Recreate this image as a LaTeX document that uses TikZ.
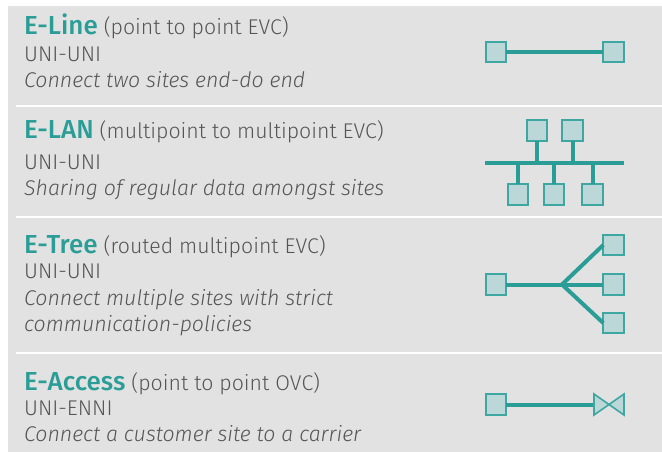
\documentclass[tikz,border=0pt]{standalone}
\usepackage{fontspec}
\IfFontExistsTF{Fira Sans Light}{%
  \setmainfont{Fira Sans Light}[BoldFont={Fira Sans Medium}]}{%
  \setmainfont{Fira Sans}}
\definecolor{bgc}{HTML}{E2E2E2}
\definecolor{tealc}{HTML}{2A9D97}
\definecolor{sqc}{HTML}{BCD7D8}
\definecolor{txtc}{HTML}{555555}
\newcommand{\ttlfont}{\fontsize{26}{29}\selectfont\bfseries\color{tealc}}
\begin{document}
\begin{tikzpicture}[x=1pt,y=-1pt,
  site/.style={draw=tealc!90!white, line width=2pt, fill=sqc, minimum size=20.5pt, inner sep=0pt, outer sep=0pt},
  link/.style={draw=tealc, line width=4pt},
  sepline/.style={draw=white, line width=2pt},
  body/.style={anchor=base west, inner sep=0pt, text=txtc, font=\fontsize{21.3}{25}\selectfont},
  desc/.style={body, font=\fontsize{21.3}{25}\selectfont\itshape},
  tri/.style={draw=tealc!90!white, line width=1.6pt, fill=sqc, line join=miter}]
\useasboundingbox (0,0) rectangle (662,452);
\fill[bgc] (8,6) rectangle (662,452);
% separators
\draw[sepline] (16,106) -- (662,106);
\draw[sepline] (16,217) -- (662,217);
\draw[sepline] (16,353) -- (662,353);

% ---- E-Line
\node[body] (h1) at (24,35) {{\ttlfont E-Line} (point to point EVC)};
\node[body] (u1) at (24,62) {UNI-UNI};
\node[desc] (d1) at (24,88) {Connect two sites end-do end};
\node[site] (l1) at (496,52) {};
\node[site] (l2) at (613.5,52) {};
\draw[link] (l1) -- (l2);

% ---- E-LAN
\node[body] (h2) at (24,139) {{\ttlfont E-LAN} (multipoint to multipoint EVC)};
\node[body] (u2) at (24,169) {UNI-UNI};
\node[desc] (d2) at (24,195) {Sharing of regular data amongst sites};
\coordinate (busL) at (485,163);
\coordinate (busR) at (624,163);
\node[site] (lt1) at (537,130.5) {};
\node[site] (lt2) at (572.5,130.5) {};
\node[site] (lb1) at (518,194.5) {};
\node[site] (lb2) at (554,194.5) {};
\node[site] (lb3) at (592.5,194.5) {};
\draw[link] (busL) -- (busR);
\draw[link] (lt1) -- (lt1 |- busL);
\draw[link] (lt2) -- (lt2 |- busL);
\draw[link] (lb1) -- (lb1 |- busL);
\draw[link] (lb2) -- (lb2 |- busL);
\draw[link] (lb3) -- (lb3 |- busL);

% ---- E-Tree
\node[body] (h3) at (24,253) {{\ttlfont E-Tree} (routed multipoint EVC)};
\node[body] (u3) at (24,278) {UNI-UNI};
\node[desc] (d3) at (24,305) {Connect multiple sites with strict};
\node[desc] (d3b) at (24,331) {communication-policies};
\node[site] (tl) at (496,284.5) {};
\coordinate (br) at (562,284.5);
\node[site] (r1) at (613.5,245) {};
\node[site] (r2) at (613.5,284.5) {};
\node[site] (r3) at (613.5,323) {};
\draw[link] (tl) -- (br);
\draw[link, line join=miter] (r1.west) -- (br) -- (r3.west);
\draw[link] (br) -- (r2);

% ---- E-Access
\node[body] (h4) at (24,390) {{\ttlfont E-Access} (point to point OVC)};
\node[body] (u4) at (24,415) {UNI-ENNI};
\node[desc] (d4) at (24,441) {Connect a customer site to a carrier};
\node[site] (a1) at (496,404.5) {};
\coordinate (bt) at (609,404.5);
\coordinate (btl) at (594,404.5);
\draw[link] (a1) -- (btl);
\draw[tri] (bt) -- ++(-15,-10.5) -- ++(0,21) -- cycle;
\draw[tri] (bt) -- ++(15,-10.5) -- ++(0,21) -- cycle;
\end{tikzpicture}
\end{document}
